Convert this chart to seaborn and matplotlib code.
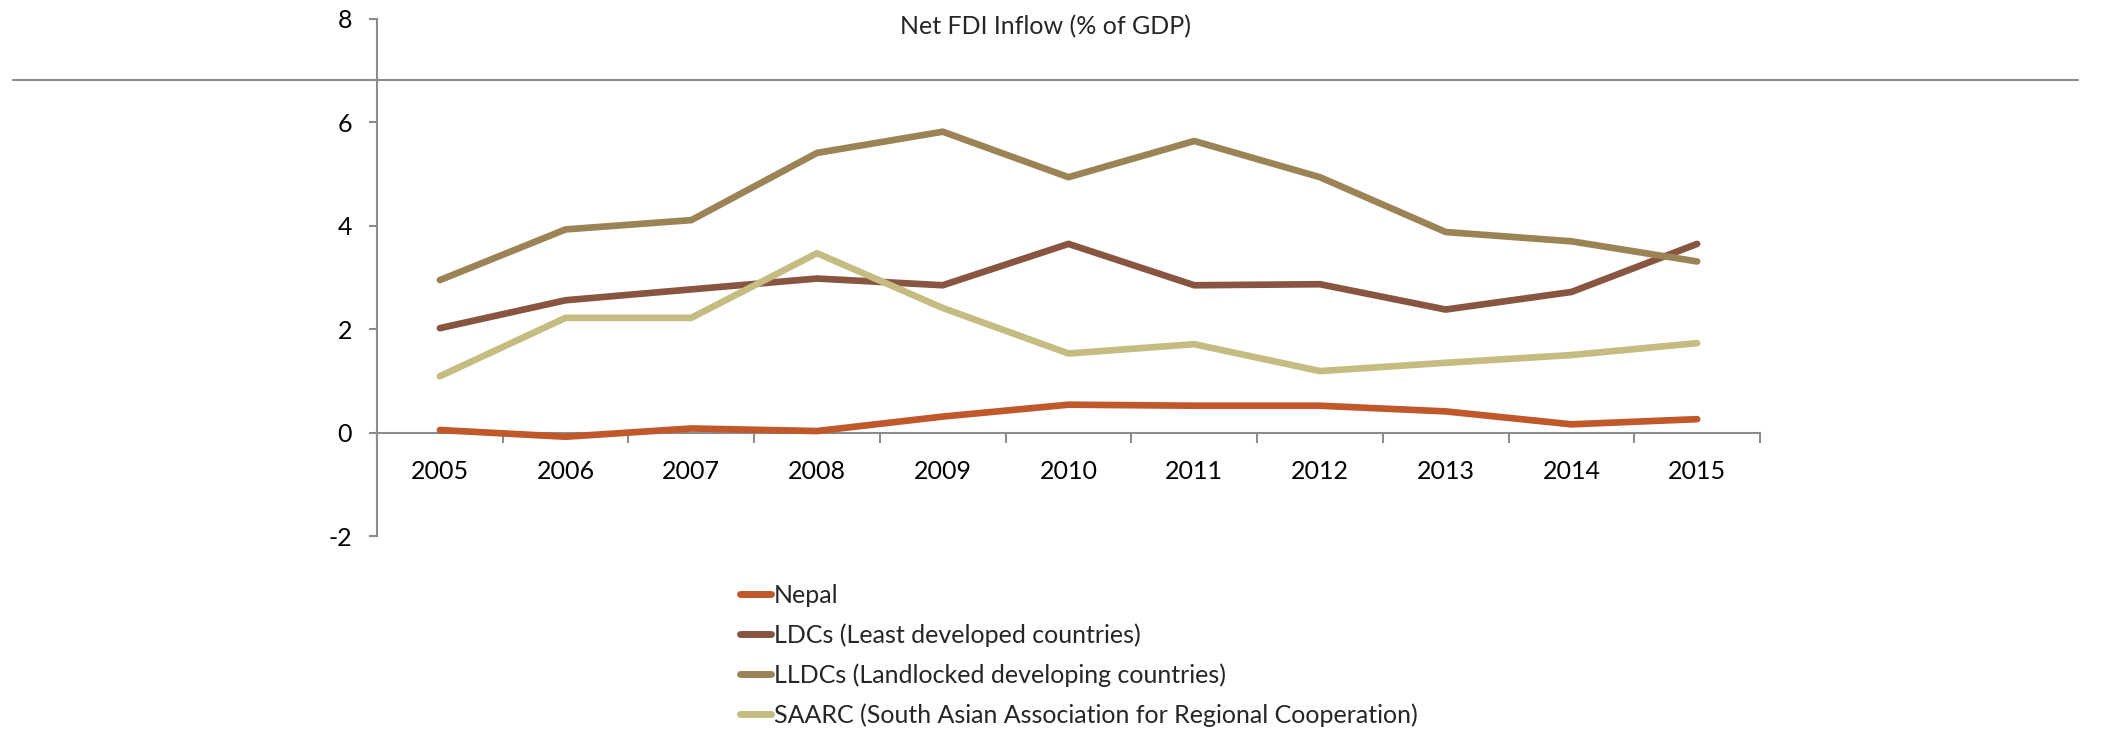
import matplotlib
matplotlib.use("Agg")
import matplotlib.pyplot as plt
from matplotlib.lines import Line2D
import seaborn as sns
import pandas as pd

years = ["2005", "2006", "2007", "2008", "2009", "2010", "2011", "2012", "2013", "2014", "2015"]
nepal = [0.05, -0.08, 0.08, 0.03, 0.31, 0.54, 0.52, 0.52, 0.41, 0.16, 0.26]
ldcs = [2.02, 2.56, 2.77, 2.98, 2.85, 3.65, 2.85, 2.87, 2.38, 2.72, 3.65]
lldcs = [2.95, 3.93, 4.11, 5.41, 5.82, 4.94, 5.64, 4.94, 3.88, 3.70, 3.31]
saarc = [1.09, 2.22, 2.22, 3.47, 2.41, 1.53, 1.71, 1.19, 1.35, 1.50, 1.73]
series_names = ["Nepal", "LDCs (Least developed countries)",
                "LLDCs (Landlocked developing countries)",
                "SAARC (South Asian Association for Regional Cooperation)"]
colors = ["#C0582C", "#885540", "#9C8356", "#C4BC80"]
title = "Net FDI Inflow (% of GDP)"

rows = []
for name, vals in zip(series_names, [nepal, ldcs, lldcs, saarc]):
    for y, v in zip(years, vals):
        rows.append({"Year": y, "Value": v, "Series": name})
df = pd.DataFrame(rows)

sns.set_style("white")
plt.rcParams["font.family"] = ["Lato", "DejaVu Sans"]

W, H = 2102, 730
FS = 18
fig = plt.figure(figsize=(W / 100, H / 100), dpi=100)
ax = fig.add_axes([377 / W, 1 - 536 / H, (1760 - 377) / W, (536 - 19) / H])

sns.lineplot(data=df, x="Year", y="Value", hue="Series", palette=colors,
             hue_order=series_names, linewidth=4.8, ax=ax, legend=False,
             solid_capstyle="round", sort=False)
for ln in ax.lines:
    ln.set_zorder(3)

ax.set_xlim(-0.5, 10.5)
ax.set_ylim(-2, 8)
ax.set_yticks([-2, 0, 2, 4, 6, 8])
ax.set_yticklabels(["-2", "0", "2", "4", "6", "8"])
ax.set_xticks(range(len(years)))
ax.set_xticklabels(years)
ax.set_xticks([i - 0.5 for i in range(len(years) + 1)], minor=True)
ax.set_xlabel("")
ax.set_ylabel("")

for s in ["top", "right"]:
    ax.spines[s].set_visible(False)
gray = "#8C8C8C"
ax.spines["left"].set_color(gray)
ax.spines["left"].set_linewidth(1.5)
ax.spines["bottom"].set_color(gray)
ax.spines["bottom"].set_linewidth(1.5)
ax.spines["bottom"].set_position(("data", 0))
for sp in ax.spines.values():
    sp.set_zorder(2)

ax.tick_params(axis="y", which="major", direction="out", length=6, width=1.5,
               color=gray, labelsize=FS, pad=12, left=True)
ax.tick_params(axis="x", which="major", length=0, labelsize=FS, pad=20, bottom=True)
ax.tick_params(axis="x", which="minor", direction="out", length=7, width=1.5,
               color=gray, bottom=True)
for lab in ax.get_xticklabels() + ax.get_yticklabels():
    lab.set_color("#000000")

fig.text(1046 / W, 1 - 27 / H, title, ha="center", va="center", fontsize=FS)

fig.add_artist(Line2D([13 / W, 2078 / W], [1 - 80 / H, 1 - 80 / H],
                      color=gray, linewidth=1.5))

handles = [Line2D([0], [0], color=c, linewidth=5, solid_capstyle="round")
           for c in colors]
fig.legend(handles, series_names, loc="upper left",
           bbox_to_anchor=(730 / W, 1 - 574 / H), frameon=False,
           fontsize=FS, handlelength=1.25, handletextpad=0.1,
           labelspacing=0.65, borderaxespad=0)

fig.savefig("out.png", dpi=100)
